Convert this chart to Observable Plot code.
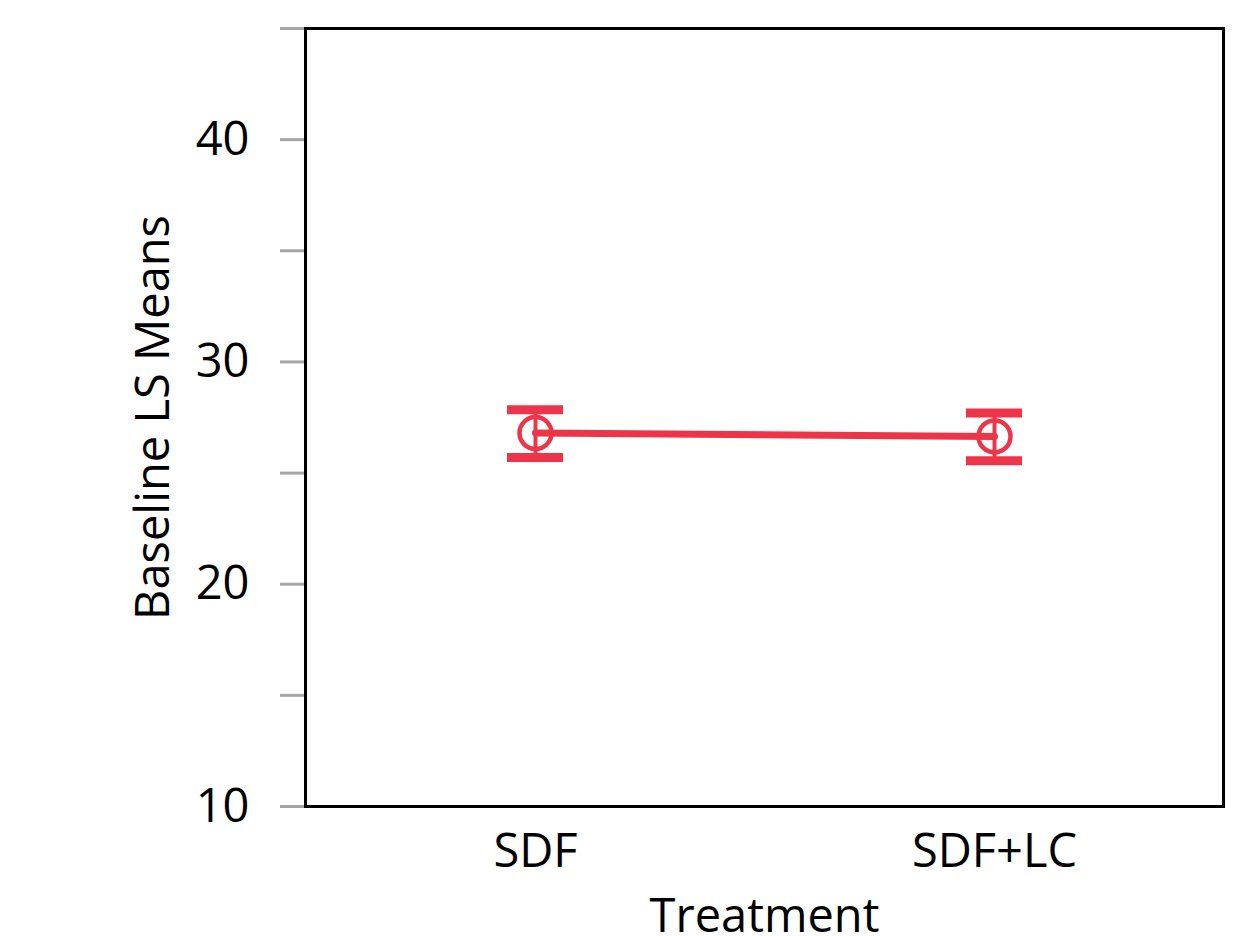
<!DOCTYPE html>
<html>
<head>
<meta charset="utf-8">
<script src="https://cdn.jsdelivr.net/npm/d3@7"></script>
<script src="https://cdn.jsdelivr.net/npm/@observablehq/plot@0.6"></script>
<style>
  html, body { margin: 0; padding: 0; background: #fff; }
  #chart svg { display: block; }
</style>
</head>
<body>
<div id="chart"></div>
<script>
const treatments = ["SDF", "SDF+LC"];
const means = [26.8, 26.65];
const lower = [25.7, 25.55];
const upper = [27.85, 27.7];
const majorTicks = [10, 20, 30, 40];
const minorTicks = [15, 25, 35, 45];

const data = treatments.map((t, i) => ({t, mean: means[i], lo: lower[i], hi: upper[i]}));
const red = "#ee3448";
const font = "'Open Sans', 'Noto Sans', sans-serif";

const chart = Plot.plot({
  width: 1240,
  height: 936,
  marginLeft: 305,
  marginRight: 17,
  marginTop: 28,
  marginBottom: 130,
  style: {fontFamily: font, fontSize: "47px", color: "black", background: "white"},
  x: {type: "point", domain: treatments, padding: 0.5},
  y: {domain: [10, 45]},
  marks: [
    Plot.axisY(minorTicks, {tickSize: 25, stroke: "#a6a6a6", strokeWidth: 3, strokeOpacity: 1, text: null, label: null}),
    Plot.axisY(majorTicks, {tickSize: 25, tickPadding: 31, stroke: "#a6a6a6", strokeWidth: 3, strokeOpacity: 1, fill: "black", fontSize: 47, label: "Baseline LS Means", labelAnchor: "center", labelArrow: "none", labelOffset: 170}),
    Plot.axisX({tickSize: 0, tickPadding: 27, fontSize: 47, fill: "black", label: "Treatment", labelAnchor: "center", labelArrow: "none", labelOffset: 125}),
    Plot.line(data, {x: "t", y: "mean", stroke: red, strokeWidth: 7}),
    Plot.ruleX(data, {x: "t", y1: "lo", y2: "hi", stroke: red, strokeWidth: 4}),
    Plot.ruleY(data, {y: "hi", x1: "t", x2: "t", insetLeft: -28, insetRight: -28, stroke: red, strokeWidth: 9}),
    Plot.ruleY(data, {y: "lo", x1: "t", x2: "t", insetLeft: -28, insetRight: -28, stroke: red, strokeWidth: 9}),
    Plot.dot(data, {x: "t", y: "mean", r: 16, stroke: red, strokeWidth: 4.5, fill: "none"}),
    Plot.frame({stroke: "black", strokeWidth: 3})
  ]
});
document.getElementById("chart").appendChild(chart);
</script>
</body>
</html>
